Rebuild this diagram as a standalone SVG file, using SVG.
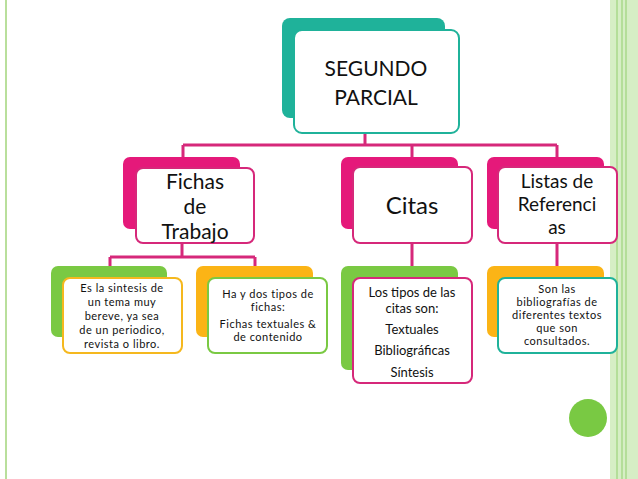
<svg xmlns="http://www.w3.org/2000/svg" width="638" height="479" viewBox="0 0 638 479">
<style>
text{font-family:"Lato","Liberation Sans",sans-serif;fill:#111;text-anchor:middle}
.f{fill:#fff;stroke-width:2}
.c{fill:none;stroke:#d6287a;stroke-width:3}
.s{font-size:11px;letter-spacing:0.5px}
</style>
<rect x="0" y="0" width="638" height="479" fill="#fff"/>
<line x1="6" y1="0" x2="6" y2="479" stroke="#b9df9c" stroke-width="2"/>
<rect x="610" y="0" width="28" height="479" fill="#d6eec5"/>
<line x1="617" y1="0" x2="617" y2="479" stroke="#a9d88a" stroke-width="1.5"/>
<line x1="622" y1="0" x2="622" y2="479" stroke="#a9d88a" stroke-width="1.5"/>
<line x1="626" y1="0" x2="626" y2="479" stroke="#a9d88a" stroke-width="1.5"/>
<circle cx="588" cy="418" r="19" fill="#79c943"/>
<g id="connectors">
<path class="c" d="M365 133V145M183 145H557M183 145V157M412 145V157M557 145V157"/>
<path class="c" d="M182 243V257M110 257H255M110 257V266M255 257V266M412 243V266M557 243V266"/>
</g>
<g id="root">
<rect x="282" y="18" width="163" height="100" rx="8" fill="#1fb29a"/>
<rect class="f" x="294" y="30" width="165" height="103" rx="8" stroke="#1fb29a"/>
<text x="376" y="76" font-size="21">SEGUNDO</text>
<text x="376" y="105" font-size="21">PARCIAL</text>
</g>
<g id="fichas">
<rect x="123" y="157" width="117" height="72" rx="7" fill="#e5197a"/>
<rect class="f" x="136" y="168" width="118" height="75" rx="7" stroke="#d6287a"/>
<text x="195" y="189" font-size="21">Fichas</text>
<text x="195" y="214" font-size="21">de</text>
<text x="195" y="239" font-size="21">Trabajo</text>
</g>
<g id="citas">
<rect x="341" y="157" width="117" height="72" rx="7" fill="#e5197a"/>
<rect class="f" x="353" y="167" width="119" height="76" rx="7" stroke="#d6287a"/>
<text x="412" y="214" font-size="24">Citas</text>
</g>
<g id="listas">
<rect x="487" y="157" width="117" height="72" rx="7" fill="#e5197a"/>
<rect class="f" x="498" y="167" width="119" height="76" rx="7" stroke="#d6287a"/>
<text x="557" y="188" font-size="19">Listas de</text>
<text x="557" y="211" font-size="19">Referenci</text>
<text x="557" y="234" font-size="19">as</text>
</g>
<g id="sintesis">
<rect x="51" y="266" width="116" height="71" rx="7" fill="#7ac943"/>
<rect class="f" x="63" y="278" width="119" height="75" rx="7" stroke="#f5b81e"/>
<text class="s" x="122" y="292">Es la sintesis de</text>
<text class="s" x="122" y="306">un tema muy</text>
<text class="s" x="122" y="320">bereve, ya sea</text>
<text class="s" x="122" y="334">de un periodico,</text>
<text class="s" x="122" y="348">revista o libro.</text>
</g>
<g id="tipos-fichas">
<rect x="196" y="266" width="117" height="71" rx="7" fill="#fbb416"/>
<rect class="f" x="208" y="278" width="119" height="75" rx="7" stroke="#7ac943"/>
<text class="s" x="268" y="298">Ha y dos tipos de</text>
<text class="s" x="268" y="311">fichas:</text>
<text class="s" x="268" y="328">Fichas textuales &amp;</text>
<text class="s" x="268" y="341">de contenido</text>
</g>
<g id="tipos-citas">
<rect x="341" y="266" width="117" height="104" rx="7" fill="#7ac943"/>
<rect class="f" x="353" y="278" width="119" height="105" rx="7" stroke="#d6287a"/>
<text x="412" y="297" font-size="13">Los tipos de las</text>
<text x="412" y="313" font-size="13">citas son:</text>
<text x="412" y="334" font-size="13">Textuales</text>
<text x="412" y="355" font-size="13">Bibliográficas</text>
<text x="412" y="377" font-size="13">Síntesis</text>
</g>
<g id="bibliografias">
<rect x="487" y="266" width="117" height="71" rx="7" fill="#fbb416"/>
<rect class="f" x="498" y="278" width="119" height="75" rx="7" stroke="#1fb29a"/>
<text class="s" x="557" y="293">Son las</text>
<text class="s" x="557" y="306">bibliografías de</text>
<text class="s" x="557" y="319">diferentes textos</text>
<text class="s" x="557" y="332">que son</text>
<text class="s" x="557" y="345">consultados.</text>
</g>
</svg>
